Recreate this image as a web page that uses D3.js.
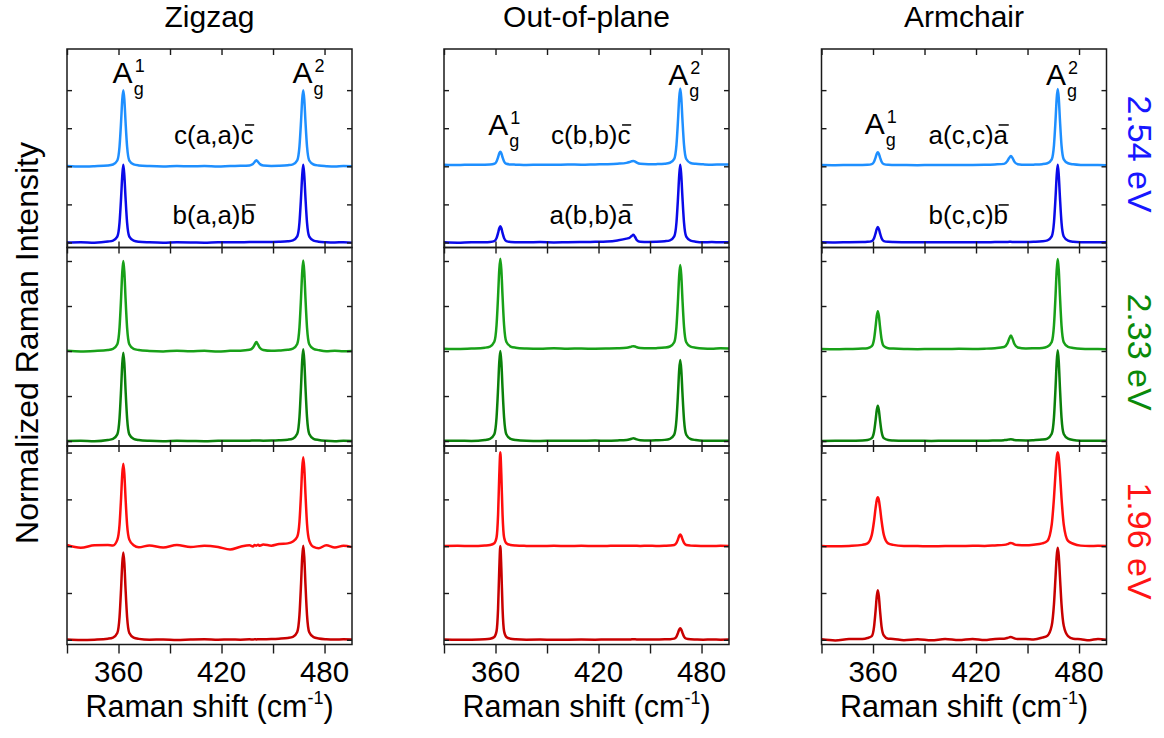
<!DOCTYPE html>
<html>
<head>
<meta charset="utf-8">
<script src="https://cdn.jsdelivr.net/npm/d3@7"></script>
<style>
  body { margin: 0; background: #fff; }
  svg { font-family: "Liberation Sans", Arial, sans-serif; }
</style>
</head>
<body>
<svg id="chart" width="1164" height="738"></svg>
<script>
// ---- data ----
const panels = ['Zigzag', 'Out-of-plane', 'Armchair'];
const energies = ['2.54 eV', '2.33 eV', '1.96 eV'];
const upperGeometry = ['c(a,a)c', 'c(b,b)c', 'a(c,c)a'];
const lowerGeometry = ['b(a,a)b', 'a(b,b)a', 'b(c,c)b'];
const xMajorTicks = [360, 420, 480];
const xMinorTicks = [330, 390, 450];
const yTicks = [0, 0.5, 1, 1.5, 2];

// Raman shift (cm-1) of every sampled point, shared by all spectra
const shifts = [330, 338, 346,
  353.8, 356.8, 359.3, 360.6, 361.5, 362.2, 362.8, 363.4, 364.1, 365.0, 366.3, 368.8, 371.8,
  378, 386, 394, 402, 410, 418, 425, 431,
  436.3, 438.3, 439.3, 440.3, 441.3, 442.3, 444.3,
  449, 453.5,
  458.6, 461.6, 464.1, 465.4, 466.3, 467.0, 467.6, 468.2, 468.9, 469.8, 471.1, 473.6, 476.6,
  481, 486, 491, 496];

// normalized intensities, 2.54 eV
const zz254Up = [0.004, -0.003, 0.002,
  0.011, 0.024, 0.076, 0.26, 0.585, 0.88, 1, 0.88, 0.585, 0.26, 0.076, 0.026, 0.012,
  0.003, -0.002, 0.004, 0, 0.003, -0.002, 0.004, 0.006,
  0.012, 0.03, 0.056, 0.08, 0.056, 0.03, 0.01,
  0.004, 0.006,
  0.014, 0.026, 0.078, 0.262, 0.585, 0.88, 1, 0.88, 0.585, 0.26, 0.076, 0.024, 0.01,
  0.002, -0.003, 0.003, 0];
const zz254Lo = [0, 0.003, -0.002,
  0.012, 0.025, 0.076, 0.26, 0.585, 0.88, 1.02, 0.88, 0.585, 0.26, 0.076, 0.024, 0.01,
  0.002, -0.003, 0.002, 0.001, -0.002, 0.003, 0.002, 0.004,
  0.005, 0.006, 0.006, 0.007, 0.006, 0.006, 0.006,
  0.007, 0.009,
  0.016, 0.028, 0.08, 0.262, 0.585, 0.88, 1.02, 0.88, 0.585, 0.26, 0.076, 0.024, 0.01,
  0.003, 0, 0.003, -0.002];
const oop254Up = [0.02, 0.016, 0.022,
  0.022, 0.024, 0.033, 0.064, 0.119, 0.17, 0.19, 0.17, 0.119, 0.064, 0.033, 0.024, 0.022,
  0.018, 0.022, 0.02, 0.024, 0.021, 0.025, 0.028, 0.034,
  0.045, 0.058, 0.066, 0.07, 0.062, 0.048, 0.032,
  0.026, 0.028,
  0.034, 0.046, 0.098, 0.282, 0.605, 0.9, 1.02, 0.9, 0.605, 0.28, 0.096, 0.044, 0.032,
  0.026, 0.022, 0.024, 0.025];
const oop254Lo = [0.003, -0.002, 0.004,
  0.004, 0.007, 0.018, 0.057, 0.125, 0.187, 0.212, 0.187, 0.125, 0.057, 0.018, 0.007, 0.004,
  0.002, 0.005, 0.001, 0.004, 0.006, 0.008, 0.012, 0.026,
  0.05, 0.066, 0.085, 0.1, 0.072, 0.032, 0.01,
  0.006, 0.008,
  0.016, 0.028, 0.08, 0.262, 0.585, 0.88, 1.02, 0.88, 0.585, 0.26, 0.076, 0.024, 0.01,
  0.003, 0.005, 0.002, 0.004];
const ac254Up = [0.016, 0.014, 0.017,
  0.018, 0.02, 0.029, 0.06, 0.115, 0.166, 0.186, 0.166, 0.115, 0.06, 0.029, 0.02, 0.018,
  0.016, 0.015, 0.017, 0.016, 0.018, 0.017, 0.019, 0.024,
  0.032, 0.07, 0.108, 0.136, 0.108, 0.062, 0.028,
  0.02, 0.022,
  0.028, 0.04, 0.092, 0.276, 0.6, 0.896, 1.016, 0.896, 0.6, 0.276, 0.092, 0.04, 0.026,
  0.018, 0.016, 0.017, 0.015];
const ac254Lo = [0.003, 0.001, 0.004,
  0.005, 0.008, 0.018, 0.055, 0.12, 0.179, 0.203, 0.179, 0.12, 0.055, 0.018, 0.008, 0.005,
  0.003, 0.002, 0.004, 0.003, 0.002, 0.004, 0.003, 0.005,
  0.006, 0.007, 0.008, 0.008, 0.007, 0.006, 0.006,
  0.007, 0.01,
  0.016, 0.028, 0.08, 0.262, 0.585, 0.88, 1.02, 0.88, 0.585, 0.26, 0.078, 0.024, 0.01,
  0.004, 0.003, 0.004, 0.002];

// 2.33 eV
const zz233Up = [0.002, -0.004, 0.001,
  0.011, 0.024, 0.076, 0.26, 0.585, 0.88, 1, 0.88, 0.585, 0.26, 0.076, 0.024, 0.011,
  0.001, -0.004, 0.003, -0.003, 0.002, -0.005, 0.002, 0.004,
  0.014, 0.038, 0.07, 0.1, 0.07, 0.036, 0.012,
  0.003, 0.006,
  0.013, 0.026, 0.078, 0.262, 0.585, 0.88, 1.005, 0.88, 0.585, 0.26, 0.076, 0.024, 0.01,
  -0.002, 0.003, -0.003, 0.001];
const zz233Lo = [0.001, 0.003, -0.002,
  0.011, 0.024, 0.074, 0.255, 0.573, 0.862, 0.98, 0.862, 0.573, 0.255, 0.074, 0.024, 0.011,
  0.002, -0.002, 0.003, 0.001, -0.002, 0.002, 0.004, 0.003,
  0.004, 0.006, 0.007, 0.007, 0.006, 0.005, 0.004,
  0.005, 0.008,
  0.015, 0.028, 0.08, 0.267, 0.597, 0.898, 1.02, 0.898, 0.597, 0.265, 0.078, 0.025, 0.011,
  0.002, -0.002, 0.003, 0.001];
const oop233Up = [0.026, 0.022, 0.027,
  0.037, 0.05, 0.102, 0.286, 0.611, 0.906, 1.026, 0.906, 0.611, 0.286, 0.102, 0.05, 0.037,
  0.028, 0.024, 0.03, 0.026, 0.028, 0.025, 0.027, 0.03,
  0.036, 0.044, 0.05, 0.054, 0.05, 0.042, 0.034,
  0.03, 0.032,
  0.038, 0.05, 0.097, 0.268, 0.57, 0.844, 0.956, 0.844, 0.57, 0.268, 0.097, 0.048, 0.036,
  0.028, 0.026, 0.03, 0.027];
const oop233Lo = [0.002, 0.004, 0.001,
  0.011, 0.024, 0.076, 0.26, 0.585, 0.88, 1, 0.88, 0.585, 0.26, 0.076, 0.024, 0.011,
  0.003, 0.001, 0.004, 0.002, 0.003, 0.005, 0.004, 0.007,
  0.012, 0.02, 0.026, 0.03, 0.026, 0.018, 0.01,
  0.006, 0.008,
  0.013, 0.025, 0.071, 0.237, 0.529, 0.794, 0.9, 0.794, 0.529, 0.236, 0.07, 0.023, 0.011,
  0.003, 0.002, 0.004, 0.003];
const ac233Up = [0.022, 0.02, 0.023,
  0.027, 0.032, 0.054, 0.131, 0.268, 0.392, 0.442, 0.392, 0.268, 0.131, 0.054, 0.032, 0.027,
  0.022, 0.021, 0.023, 0.022, 0.024, 0.023, 0.026, 0.032,
  0.045, 0.085, 0.135, 0.172, 0.135, 0.08, 0.04,
  0.028, 0.03,
  0.034, 0.048, 0.1, 0.284, 0.607, 0.902, 1.022, 0.902, 0.607, 0.282, 0.098, 0.046, 0.033,
  0.024, 0.022, 0.023, 0.021];
const ac233Lo = [0.001, 0.003, 0.002,
  0.005, 0.011, 0.032, 0.103, 0.23, 0.345, 0.392, 0.345, 0.23, 0.103, 0.032, 0.011, 0.006,
  0.002, 0.003, 0.001, 0.003, 0.002, 0.004, 0.003, 0.006,
  0.01, 0.014, 0.018, 0.02, 0.017, 0.012, 0.008,
  0.007, 0.01,
  0.016, 0.028, 0.08, 0.262, 0.585, 0.88, 1.01, 0.88, 0.585, 0.26, 0.078, 0.026, 0.012,
  0.004, 0.002, 0.003, 0.002];

// 1.96 eV
const zz196Up = [0.012, -0.016, 0.01,
  0.014, 0.008, 0.067, 0.229, 0.515, 0.774, 0.88, 0.774, 0.515, 0.229, 0.07, 0.01, -0.012,
  0.008, -0.014, 0.012, -0.01, 0.006, -0.008, -0.035, -0.006,
  0.01, -0.004, 0.012, 0.006, 0.016, 0.004, 0.018,
  0.006, 0.024,
  0.03, 0.05, 0.1, 0.26, 0.556, 0.836, 0.95, 0.836, 0.556, 0.24, 0.06, -0.008, -0.022,
  0.01, -0.014, 0.004, -0.01];
const zz196Lo = [0.003, -0.002, 0.002,
  0.012, 0.024, 0.073, 0.244, 0.546, 0.82, 0.932, 0.82, 0.546, 0.244, 0.073, 0.024, 0.01,
  0.001, 0.004, -0.002, 0.003, 0.006, 0.001, 0.004, 0.002,
  0.005, 0.003, 0.006, 0.004, 0.007, 0.005, 0.006,
  0.008, 0.012,
  0.02, 0.032, 0.084, 0.266, 0.589, 0.884, 1.004, 0.884, 0.589, 0.264, 0.08, 0.028, 0.014,
  0.006, 0.003, 0.006, 0.004];
const oop196Up = [0.002, 0.004, 0.001,
  0.007, 0.013, 0.032, 0.092, 0.337, 0.762, 1.002, 0.762, 0.337, 0.092, 0.032, 0.013, 0.007,
  0.003, 0.001, 0.004, 0.002, 0.004, 0.002, 0.003, 0.004,
  0.004, 0.005, 0.006, 0.006, 0.005, 0.004, 0.003,
  0.004, 0.003,
  0.005, 0.007, 0.013, 0.035, 0.074, 0.11, 0.124, 0.11, 0.074, 0.035, 0.012, 0.006, 0.004,
  0.003, 0.002, 0.004, 0.003];
const oop196Lo = [0.003, 0.001, 0.002,
  0.006, 0.012, 0.031, 0.091, 0.336, 0.761, 1.001, 0.761, 0.336, 0.091, 0.031, 0.012, 0.006,
  0.002, 0.003, 0.001, 0.002, 0.003, 0.002, 0.004, 0.003,
  0.004, 0.004, 0.005, 0.006, 0.005, 0.004, 0.003,
  0.003, 0.004,
  0.005, 0.007, 0.013, 0.035, 0.074, 0.11, 0.124, 0.11, 0.074, 0.035, 0.013, 0.006, 0.004,
  0.002, 0.003, 0.002, 0.003];
const ac196Up = [0.002, -0.002, 0.003,
  0.014, 0.03, 0.121, 0.269, 0.406, 0.493, 0.522, 0.493, 0.406, 0.269, 0.121, 0.03, 0.014,
  0.003, 0.001, -0.002, 0.002, 0.001, 0.004, 0.003, 0.008,
  0.014, 0.022, 0.03, 0.035, 0.03, 0.02, 0.012,
  0.01, 0.016,
  0.03, 0.058, 0.232, 0.515, 0.778, 0.947, 1.002, 0.947, 0.778, 0.515, 0.231, 0.056, 0.026,
  0.006, 0.002, 0.004, 0.001];
const ac196Lo = [0.006, -0.006, 0.008,
  0.01, 0.02, 0.04, 0.138, 0.31, 0.466, 0.53, 0.466, 0.31, 0.138, 0.046, 0.012, 0.01,
  -0.004, 0.006, -0.005, 0.008, -0.003, 0.009, -0.002, 0.01,
  0.012, 0.02, 0.026, 0.03, 0.024, 0.016, 0.008,
  0.01, 0.004,
  0.024, 0.044, 0.152, 0.381, 0.668, 0.897, 0.982, 0.897, 0.668, 0.379, 0.15, 0.04, 0.012,
  0.006, -0.004, 0.01, 0.002];

// rows = excitation energy, columns = panel, [upper, lower]
const spectra = [
  [[zz254Up, zz254Lo], [oop254Up, oop254Lo], [ac254Up, ac254Lo]],
  [[zz233Up, zz233Lo], [oop233Up, oop233Lo], [ac233Up, ac233Lo]],
  [[zz196Up, zz196Lo], [oop196Up, oop196Lo], [ac196Up, ac196Lo]]
];

// ---- layout ----
const colX = [67, 444, 821.5], colW = 285;
const rowY = [49, 247.5, 446], rowH = 198.5;
const rowDomains = [[-0.066, 2.54], [-0.055, 2.15], [-0.05, 2.07]];
const traceColors = [['#1e8fff', '#0a0ae8'], ['#18a018', '#0b800b'], ['#ff0d0d', '#c80000']];
const energyColors = ['#1717ff', '#0a8a0a', '#ff1414'];
const energyY = [154, 352, 541];
// peak label anchors [shift, level] in top-row units, A1g then A2g
const peakLabelSpots = [
  [[362.4, 2.09], [467.2, 2.09]],
  [[361.6, 1.41], [466.4, 2.07]],
  [[361.0, 1.43], [466.6, 2.07]]
];
const axisColor = '#1a1a1a';

const svg = d3.select('#chart');

function styleAxis(sel) {
  sel.select('.domain').remove();
  sel.selectAll('line').attr('stroke', axisColor).attr('stroke-width', 1.4);
}

// text with a bar over its last letter
function barredLabel(x, y, str, size) {
  const t = svg.append('text')
    .attr('x', x).attr('y', y)
    .attr('text-anchor', 'middle')
    .attr('font-size', size)
    .text(str);
  const box = t.node().getExtentOfChar(str.length - 1);
  svg.append('line')
    .attr('x1', box.x + box.width * 0.35).attr('x2', box.x + box.width * 1.05)
    .attr('y1', y - size * 0.74).attr('y2', y - size * 0.74)
    .attr('stroke', '#000').attr('stroke-width', 1.5);
}

panels.forEach((title, c) => {
  const x = d3.scaleLinear().domain([330, 496]).range([colX[c], colX[c] + colW]);

  svg.append('text')
    .attr('x', colX[c] + colW / 2).attr('y', 27)
    .attr('text-anchor', 'middle')
    .attr('font-size', 30)
    .text(title);

  rowY.forEach((top, r) => {
    const y = d3.scaleLinear().domain(rowDomains[r]).range([top + rowH, top]);
    const g = svg.append('g');

    spectra[r][c].forEach((vals, k) => {
      const offset = k === 0 ? 1 : 0;
      const line = d3.line()
        .x((d, i) => x(shifts[i]))
        .y(d => y(d + offset))
        .curve(d3.curveMonotoneX);
      g.append('path')
        .datum(vals)
        .attr('d', line)
        .attr('fill', 'none')
        .attr('stroke', traceColors[r][k])
        .attr('stroke-width', 2.5)
        .attr('stroke-linejoin', 'round');
    });

    g.append('rect')
      .attr('x', colX[c]).attr('y', top)
      .attr('width', colW).attr('height', rowH)
      .attr('fill', 'none')
      .attr('stroke', axisColor)
      .attr('stroke-width', 1.5);

    // y ticks, no labels, pointing inward on both sides
    g.append('g')
      .attr('transform', `translate(${colX[c]},0)`)
      .call(d3.axisLeft(y).tickValues(yTicks).tickSize(-5).tickFormat(''))
      .call(styleAxis);
    g.append('g')
      .attr('transform', `translate(${colX[c] + colW},0)`)
      .call(d3.axisRight(y).tickValues(yTicks).tickSize(-5).tickFormat(''))
      .call(styleAxis);

    // x ticks
    const allX = xMinorTicks.concat(xMajorTicks);
    const last = r === rowY.length - 1;
    g.append('g')
      .attr('transform', `translate(0,${top + rowH})`)
      .call(d3.axisBottom(x).tickValues(allX).tickSize(last ? 9 : 6).tickFormat(''))
      .call(styleAxis);
    g.append('g')
      .attr('transform', `translate(0,${top})`)
      .call((r === 0 ? d3.axisBottom(x) : d3.axisTop(x)).tickValues(allX).tickSize(6).tickFormat(''))
      .call(styleAxis);
  });

  // tick labels on the bottom row
  xMajorTicks.forEach(t => {
    svg.append('text')
      .attr('x', x(t)).attr('y', 682)
      .attr('text-anchor', 'middle')
      .attr('font-size', 29.5)
      .text(t);
  });

  const xt = svg.append('text')
    .attr('x', colX[c] + colW / 2).attr('y', 717)
    .attr('text-anchor', 'middle')
    .attr('font-size', 30.5);
  xt.append('tspan').text('Raman shift (cm');
  xt.append('tspan').attr('font-size', 18).attr('dy', -13).text('-1');
  xt.append('tspan').attr('dy', 13).text(')');

  // peak names in the top row
  const yTop = d3.scaleLinear().domain(rowDomains[0]).range([rowY[0] + rowH, rowY[0]]);
  peakLabelSpots[c].forEach((spot, p) => {
    const px = x(spot[0]), py = yTop(spot[1]);
    svg.append('text').attr('x', px).attr('y', py)
      .attr('text-anchor', 'middle').attr('font-size', 30).text('A');
    svg.append('text').attr('x', px + 12).attr('y', py - 11)
      .attr('font-size', 18).text(p === 0 ? '1' : '2');
    svg.append('text').attr('x', px + 11).attr('y', py + 12)
      .attr('font-size', 18).text('g');
  });

  // scattering geometry labels
  barredLabel(x(415.5), yTop(1.29), upperGeometry[c], 26);
  barredLabel(x(415.5), yTop(0.24), lowerGeometry[c], 26);
});

// y axis title
svg.append('text')
  .attr('transform', 'translate(38,343) rotate(-90)')
  .attr('text-anchor', 'middle')
  .attr('font-size', 32)
  .text('Normalized Raman Intensity');

// excitation energies
energies.forEach((e, r) => {
  svg.append('text')
    .attr('transform', `translate(1128,${energyY[r]}) rotate(90)`)
    .attr('text-anchor', 'middle')
    .attr('font-size', 34)
    .attr('fill', energyColors[r])
    .text(e);
});
</script>
</body>
</html>
